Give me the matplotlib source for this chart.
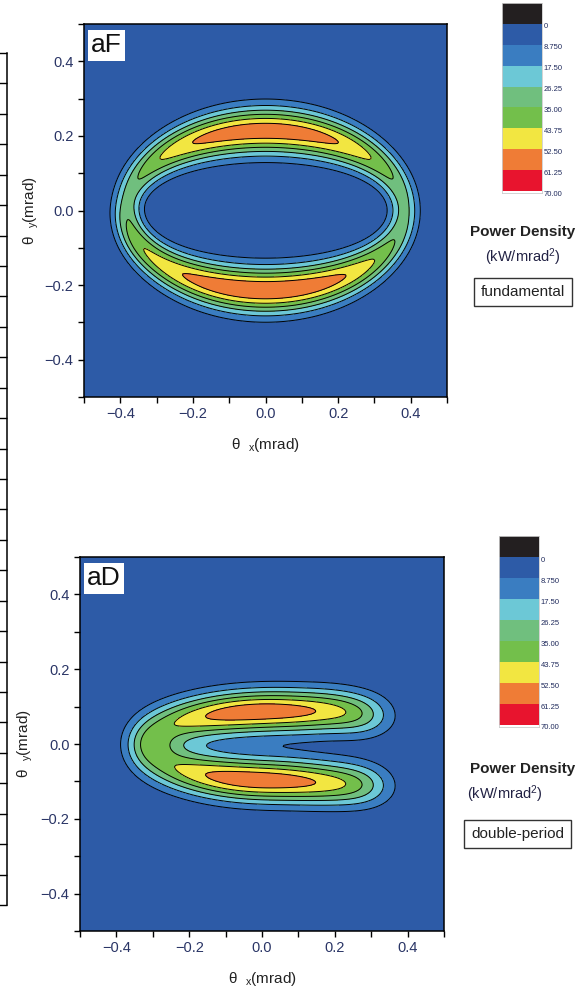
import numpy as np
import matplotlib

matplotlib.use("Agg")
import matplotlib.pyplot as plt
from matplotlib.colors import ListedColormap
from matplotlib.ticker import MultipleLocator

plt.rcParams["font.family"] = ["Liberation Sans Narrow", "Liberation Sans", "DejaVu Sans"]
plt.rcParams["mathtext.fontset"] = "custom"
plt.rcParams["mathtext.rm"] = "Liberation Sans"
plt.rcParams["mathtext.it"] = "Liberation Sans"

# contour levels / colour bands (Origin-style palette)
LEVELS = [0, 8.75, 17.5, 26.25, 35.0, 43.75, 52.5, 61.25, 70.0]
LEVEL_LABELS = ["0", "8.750", "17.50", "26.25", "35.00", "43.75", "52.50", "61.25", "70.00"]
BAND_COLORS = ["#2d5ba7", "#3a7dc1", "#6cc8d6", "#70bf7e", "#73bf4b",
               "#f2e641", "#ef7c36", "#e8142e"]
UNDER_COLOR = "#231f20"
TICK_COLOR = "#2a3566"

# aF (fundamental): elliptical ring, peak on top/bottom
F_AX, F_AY = 0.385, 0.215            # ring centre-line semi-axes (mrad)
F_AMP_SIDE, F_AMP_TOP, F_AMP_POW, F_AMP_TILT = 28.0, 32.0, 2.5, -1.0
F_BUMP_H, F_BUMP_T, F_BUMP_W = 7.0, -160.0, 20.0
F_SIG_SIDE, F_SIG_TOP = 0.040, 0.022

# aD (double-period): C shape opening to the right
D_XL, D_AL = 0.05, 0.385             # left arc centre / half-width
D_BTOP, D_BBOT = 0.088, 0.098        # lobe offsets
D_XEND = 0.40
D_DROOP, D_SHEAR = 0.10, 0.05
D_AMP_PEAK, D_X_PEAK = 60.0, -0.02
D_AMP_WL, D_AMP_WR = 0.38, 0.47
D_BOT_GAIN = 1.0
D_CUT_X, D_CUT_W = 0.33, 0.02
D_SIG = 0.058


def ridge_field(X, Y, cx, cy, amp, sig):
    ds = np.hypot(np.gradient(cx), np.gradient(cy))
    Z = np.zeros_like(X)
    for x0, y0, a0, s0, d0 in zip(cx, cy, amp, sig, ds):
        Z += a0 * d0 / (np.sqrt(np.pi) * s0) * np.exp(-((X - x0) ** 2 + (Y - y0) ** 2) / s0 ** 2)
    return Z


def field_fundamental(X, Y):
    t = np.linspace(-np.pi, np.pi, 721)
    cx, cy = F_AX * np.cos(t), F_AY * np.sin(t)
    amp = F_AMP_SIDE + F_AMP_TOP * (1 - np.abs(np.cos(t)) ** F_AMP_POW) + F_AMP_TILT * np.sin(t)
    amp += F_BUMP_H * np.exp(-((np.degrees(t) - F_BUMP_T) / F_BUMP_W) ** 2)
    sig = F_SIG_SIDE + F_SIG_TOP * np.sin(t) ** 2
    return ridge_field(X, Y, cx, cy, amp, sig)


def field_double(X, Y):
    xt = np.linspace(D_XEND, D_XL, 200)
    yt = D_BTOP - D_DROOP * np.clip(xt - 0.2, 0, None)
    ta = np.linspace(np.pi / 2, 3 * np.pi / 2, 300)
    xa = D_XL + D_AL * np.cos(ta)
    ya = np.where(np.sin(ta) > 0, D_BTOP, D_BBOT) * np.sin(ta)
    xb = np.linspace(D_XL, D_XEND, 200)
    yb = -D_BBOT - D_SHEAR * (xb - D_XL)
    cx = np.concatenate([xt, xa[1:-1], xb])
    cy = np.concatenate([yt, ya[1:-1], yb])
    w = np.where(cx < D_X_PEAK, D_AMP_WL, D_AMP_WR)
    amp = D_AMP_PEAK * np.exp(-((cx - D_X_PEAK) / w) ** 2)
    amp /= 1 + np.exp((cx - D_CUT_X) / D_CUT_W)
    amp = np.where(cy < 0, amp * D_BOT_GAIN, amp)
    sig = np.full_like(cx, D_SIG)
    return ridge_field(X, Y, cx, cy, amp, sig)


def style_axes(ax, ylab_x):
    ax.set_xlim(-0.5, 0.5)
    ax.set_ylim(-0.5, 0.5)
    ax.set_xticks([-0.4, -0.2, 0.0, 0.2, 0.4])
    ax.set_yticks([-0.4, -0.2, 0.0, 0.2, 0.4])
    ax.xaxis.set_minor_locator(MultipleLocator(0.1))
    ax.yaxis.set_minor_locator(MultipleLocator(0.1))
    ax.tick_params(which="both", direction="out", length=4, width=1, colors="black",
                   labelcolor=TICK_COLOR, labelsize=10.5)
    for sp in ax.spines.values():
        sp.set_linewidth(1.1)
    ax.set_xlabel("θ  $_x$(mrad)", fontsize=11, color="#222222")
    ax.set_ylabel("θ  $_y$(mrad)", fontsize=11, color="#222222")
    ax.xaxis.set_label_coords(0.5, -0.105)
    ax.yaxis.set_label_coords(ylab_x, 0.5)


def colorbar(fig, rect):
    cax = fig.add_axes(rect)
    cells = np.arange(len(BAND_COLORS) + 1).reshape(-1, 1)
    cmap = ListedColormap([UNDER_COLOR] + BAND_COLORS)
    cax.pcolormesh([0, 1], np.arange(len(cells) + 1), cells, cmap=cmap, shading="flat")
    cax.set_ylim(len(cells), 0)
    cax.set_xlim(0, 1)
    cax.set_xticks([])
    cax.yaxis.tick_right()
    cax.set_yticks(np.arange(1, len(cells) + 1) + 0.1)
    cax.set_yticklabels(LEVEL_LABELS)
    cax.tick_params(axis="y", length=0, pad=1, labelsize=5.5, labelcolor="#1f2a5c")
    for sp in cax.spines.values():
        sp.set_color("#cccccc")
        sp.set_linewidth(0.6)


x = np.linspace(-0.5, 0.5, 301)
X, Y = np.meshgrid(x, x)
fields = [field_fundamental(X, Y), field_double(X, Y)]

fig = plt.figure(figsize=(5.83, 9.94), dpi=100)
W, H = 583, 994
panels = [
    dict(rect=[84 / W, 1 - 397 / H, 363 / W, 373 / H], name="aF", ylab=-0.118,
         cbar=[502 / W, 1 - 193 / H, 40 / W, 190 / H], mode="fundamental",
         pd_y=232, unit_y=257, unit_x=523, unit_ha="center", box_y=292, box_x=523, box_ha="center"),
    dict(rect=[80 / W, 1 - 931 / H, 364 / W, 374 / H], name="aD", ylab=-0.124,
         cbar=[499 / W, 1 - 727 / H, 40 / W, 191 / H], mode="double-period",
         pd_y=769, unit_y=794, unit_x=467, unit_ha="left", box_y=834, box_x=471, box_ha="left"),
]

for p, Z in zip(panels, fields):
    ax = fig.add_axes(p["rect"])
    ax.contourf(X, Y, Z, levels=LEVELS, colors=BAND_COLORS)
    ax.contour(X, Y, Z, levels=LEVELS[1:-1], colors="black", linewidths=0.7)
    style_axes(ax, p["ylab"])
    ax.text(0.02, 0.975, p["name"], transform=ax.transAxes, ha="left", va="top",
            fontsize=19, color="#111111",
            bbox=dict(facecolor="white", edgecolor="none", pad=2.5))
    colorbar(fig, p["cbar"])
    fig.text(523 / W, 1 - p["pd_y"] / H, "Power Density", ha="center", va="center",
             fontsize=11, fontweight="bold", family=["Liberation Sans", "DejaVu Sans"],
             color="#222222")
    fig.text(p["unit_x"] / W, 1 - p["unit_y"] / H, "(kW/mrad$^2$)", ha=p["unit_ha"],
             va="center", fontsize=10.5, color="#222244")
    fig.text(p["box_x"] / W, 1 - p["box_y"] / H, p["mode"], ha=p["box_ha"], va="center",
             fontsize=11, color="#222222",
             bbox=dict(facecolor="white", edgecolor="#333333", linewidth=1, pad=5))

# clipped neighbouring axis at the far left edge
lax = fig.add_axes([-0.1, 1 - 905 / H, 0.1 + 7 / W, 852 / H])
lax.set_xlim(0, 1)
lax.set_ylim(0, 28)
for side in ("left", "top", "bottom"):
    lax.spines[side].set_visible(False)
lax.spines["right"].set_linewidth(1.1)
lax.set_xticks([])
lax.yaxis.tick_right()
lax.set_yticks(np.arange(0, 29))
lax.tick_params(axis="y", direction="in", length=5.5, width=1, labelright=False)
lax.patch.set_alpha(0)

fig.savefig("out.png", dpi=100)
